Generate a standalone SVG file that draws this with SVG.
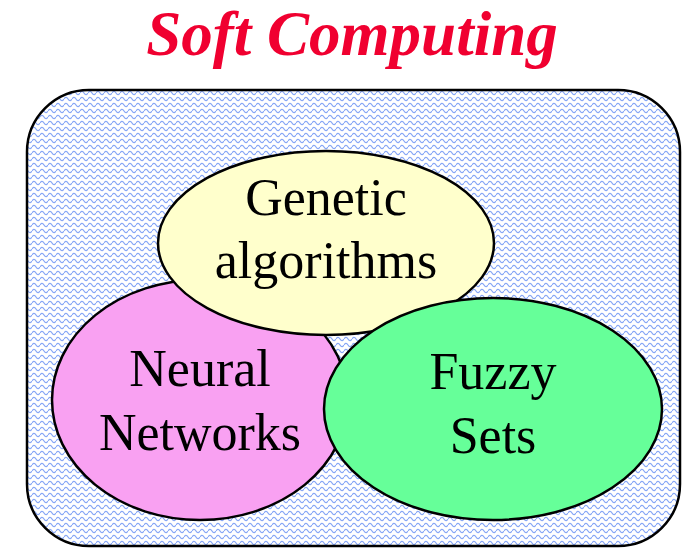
<svg xmlns="http://www.w3.org/2000/svg" width="684" height="548" viewBox="0 0 684 548">
  <defs>
    <!-- light blue wavy fill for the enclosing box -->
    <pattern id="waves" x="0" y="0" width="8" height="6" patternUnits="userSpaceOnUse">
      <rect width="8" height="6" fill="#ffffff"/>
      <path d="M0 3 Q2 -0.4 4 3 T8 3" fill="none" stroke="#86a6f6" stroke-width="1.2"/>
    </pattern>
    <style>
      .set { stroke: #000; stroke-width: 2.5; }
      .lbl { font-family: "Liberation Serif", "Times New Roman", serif; font-size: 52px; fill: #000; text-anchor: middle; }
      .title { font-family: "Liberation Serif", "Times New Roman", serif; font-size: 63px; font-weight: bold; font-style: italic; fill: #f00030; text-anchor: middle; }
    </style>
  </defs>

  <rect width="684" height="548" fill="#ffffff"/>

  <text class="title" x="352" y="55">Soft Computing</text>

  <g id="soft-computing-box">
    <rect x="27" y="90" width="653" height="456" rx="62" ry="62" fill="url(#waves)" stroke="#000" stroke-width="2.5"/>
  </g>

  <g id="neural-networks">
    <ellipse class="set" cx="200" cy="400" rx="148" ry="120" fill="#f9a1f2"/>
  </g>

  <g id="genetic-algorithms">
    <ellipse class="set" cx="326" cy="243" rx="168" ry="92" fill="#ffffcc"/>
    <text class="lbl" x="326" y="215">Genetic</text>
    <text class="lbl" x="326" y="278">algorithms</text>
  </g>

  <g id="neural-networks-label">
    <text class="lbl" x="200" y="386">Neural</text>
    <text class="lbl" x="200" y="450">Networks</text>
  </g>

  <g id="fuzzy-sets">
    <ellipse class="set" cx="493" cy="409" rx="169" ry="111" fill="#66ff99"/>
    <text class="lbl" x="493" y="389">Fuzzy</text>
    <text class="lbl" x="493" y="453">Sets</text>
  </g>

  <g id="connectors"/>
</svg>
